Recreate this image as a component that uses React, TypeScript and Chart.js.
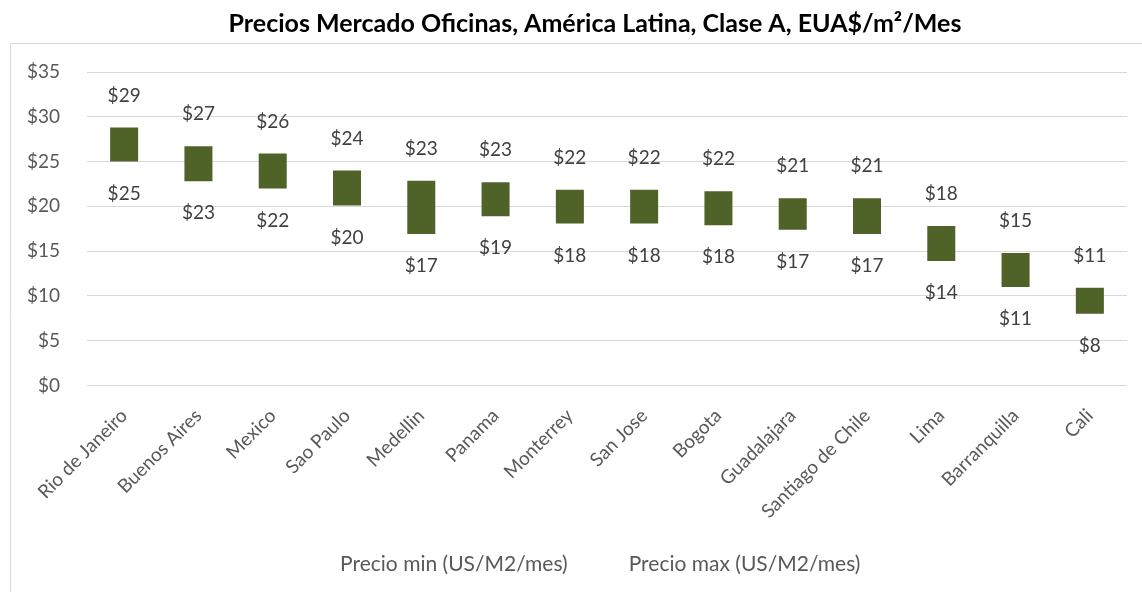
import React, { useEffect, useRef } from "react";
import { Chart, registerables } from "chart.js";

Chart.register(...registerables);

const TITLE = "Precios Mercado Oficinas, América Latina, Clase A, EUA$/m²/Mes";
const CITIES = [
  "Rio de Janeiro",
  "Buenos Aires",
  "Mexico",
  "Sao Paulo",
  "Medellin",
  "Panama",
  "Monterrey",
  "San Jose",
  "Bogota",
  "Guadalajara",
  "Santiago de Chile",
  "Lima",
  "Barranquilla",
  "Cali",
];
const PRICE_MIN = [25, 22.8, 22, 20.1, 16.9, 18.9, 18.1, 18.1, 17.9, 17.4, 16.9, 13.9, 11, 8];
const PRICE_MAX = [28.8, 26.7, 25.9, 24, 22.85, 22.7, 21.85, 21.85, 21.7, 20.9, 20.9, 17.8, 14.8, 10.9];
const SERIES_NAMES = ["Precio min (US/M2/mes)", "Precio max (US/M2/mes)"];
const Y_MIN = 0;
const Y_MAX = 35;
const Y_STEP = 5;

const FONT = "Lato, 'Open Sans', sans-serif";
const GRAY = "#595959";

const framePlugin = {
  id: "frame",
  afterLayout(chart: any) {
    // let rotated category labels extend below the axis box (no clipping)
    chart.scales.x.bottom = chart.height;
  },
  beforeDraw(chart: any) {
    const { ctx, width, height } = chart;
    ctx.save();
    ctx.fillStyle = "#ffffff";
    ctx.fillRect(0, 0, width, height);
    ctx.strokeStyle = "#d9d9d9";
    ctx.lineWidth = 1;
    ctx.beginPath();
    ctx.moveTo(10.5, height);
    ctx.lineTo(10.5, 43.5);
    ctx.lineTo(width, 43.5);
    ctx.stroke();
    ctx.restore();
  },
};

const valueLabelPlugin = {
  id: "valueLabels",
  afterDatasetsDraw(chart: any) {
    const { ctx } = chart;
    const y = chart.scales.y;
    const barMeta = chart.getDatasetMeta(2);
    ctx.save();
    ctx.font = `19px ${FONT}`;
    ctx.fillStyle = "#404040";
    ctx.textAlign = "center";
    ctx.textBaseline = "middle";
    barMeta.data.forEach((bar: any, i: number) => {
      const yMax = y.getPixelForValue(PRICE_MAX[i]);
      const yMin = y.getPixelForValue(PRICE_MIN[i]);
      ctx.fillText("$" + Math.round(PRICE_MAX[i]), bar.x, yMax - 32);
      ctx.fillText("$" + Math.round(PRICE_MIN[i]), bar.x, yMin + 32);
    });
    ctx.restore();
  },
};

export default function App() {
  const ref = useRef<HTMLCanvasElement | null>(null);

  useEffect(() => {
    if (!ref.current) return;
    const chart = new Chart(ref.current, {
      type: "bar",
      data: {
        labels: CITIES,
        datasets: [
          {
            type: "line",
            label: SERIES_NAMES[0],
            data: PRICE_MIN,
            showLine: false,
            pointRadius: 0,
            pointHoverRadius: 0,
            borderWidth: 0,
            borderColor: "rgba(0,0,0,0)",
            backgroundColor: "rgba(0,0,0,0)",
          } as any,
          {
            type: "line",
            label: SERIES_NAMES[1],
            data: PRICE_MAX,
            showLine: false,
            pointRadius: 0,
            pointHoverRadius: 0,
            borderWidth: 0,
            borderColor: "rgba(0,0,0,0)",
            backgroundColor: "rgba(0,0,0,0)",
          } as any,
          {
            type: "bar",
            label: "range",
            data: CITIES.map((_, i) => [PRICE_MIN[i], PRICE_MAX[i]]),
            backgroundColor: "#4f6228",
            borderColor: "#4f6228",
            borderWidth: 0,
            barPercentage: 0.377,
            categoryPercentage: 1,
          } as any,
        ],
      },
      options: {
        responsive: false,
        animation: false,
        events: [],
        layout: { padding: { left: 10, right: -38, top: 0, bottom: 7 } },
        plugins: {
          title: {
            display: true,
            text: TITLE,
            color: "#000000",
            font: { family: FONT, size: 25, weight: "bold" },
            padding: { top: 9, bottom: 33 },
          },
          legend: {
            display: true,
            position: "bottom",
            labels: {
              boxWidth: 0,
              boxHeight: 0,
              padding: 50.5,
              color: GRAY,
              font: { family: FONT, size: 21 },
              filter: (item: any) => item.datasetIndex < 2,
            },
          },
          tooltip: { enabled: false },
        },
        scales: {
          x: {
            grid: { display: false, drawTicks: false },
            border: { display: false },
            ticks: {
              color: GRAY,
              font: { family: FONT, size: 19 },
              minRotation: 45,
              maxRotation: 45,
              autoSkip: false,
              padding: 19,
            },
            afterFit: (scale: any) => {
              scale.height = 118;
            },
          },
          y: {
            min: Y_MIN,
            max: Y_MAX,
            grid: { color: "#d9d9d9", lineWidth: 1, drawTicks: false },
            border: { display: false },
            ticks: {
              stepSize: Y_STEP,
              color: GRAY,
              font: { family: FONT, size: 19 },
              padding: 27,
              callback: (v: any) => "$" + v,
            },
            afterFit: (scale: any) => {
              scale.width = 77;
            },
          },
          yRightSpace: {
            position: "right",
            display: true,
            grid: { display: false, drawTicks: false },
            border: { display: false },
            ticks: { display: false },
            afterFit: (scale: any) => {
              scale.width = 53;
            },
          },
        },
      },
      plugins: [framePlugin, valueLabelPlugin],
    });
    return () => chart.destroy();
  }, []);

  return (
    <div style={{ position: "absolute", left: 0, top: 0, width: 1142, height: 592 }}>
      <canvas ref={ref} width={1142} height={592} style={{ display: "block" }} />
    </div>
  );
}
